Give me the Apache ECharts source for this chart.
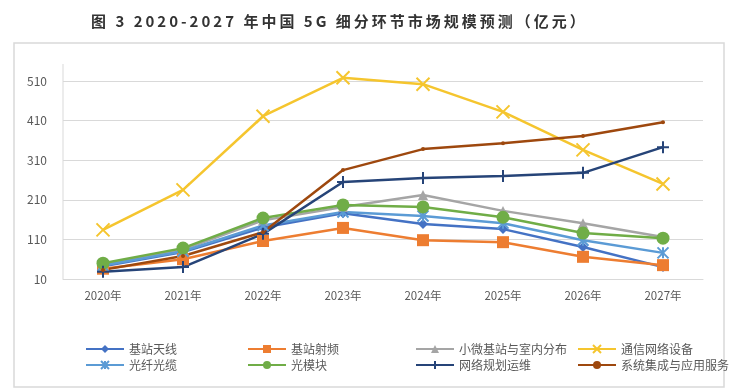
<!DOCTYPE html>
<html><head><meta charset="utf-8">
<script src="https://cdn.jsdelivr.net/npm/echarts@6/dist/echarts.min.js"></script>
<style>html,body{margin:0;padding:0;background:#fff;}#c{width:740px;height:392px;}</style>
</head><body><div id="c"></div>
<script>
const categories = ['2020年','2021年','2022年','2023年','2024年','2025年','2026年','2027年'];
const seriesNames = ['基站天线','基站射频','小微基站与室内分布','通信网络设备','光纤光缆','光模块','网络规划运维','系统集成与应用服务'];
const antenna   = [42, 78, 140, 176, 149, 136, 91, 40];
const radio     = [36, 60, 106, 139, 108, 103, 66, 45];
const smallCell = [48, 84, 158, 192, 222, 182, 151, 116];
const equipment = [134, 235, 421, 518, 502, 432, 336, 250];
const fiber     = [44, 80, 145, 179, 169, 151, 108, 76];
const module_   = [50, 88, 164, 197, 192, 166, 126, 113];
const planning  = [28, 40, 124, 255, 265, 270, 278, 343];
const service   = [33, 68, 128, 285, 338, 353, 371, 406];
const yTicks = {min: 10, max: 510, interval: 100};
const titleText = '图 3 2020-2027 年中国 5G 细分环节市场规模预测（亿元）';

const values = [antenna, radio, smallCell, equipment, fiber, module_, planning, service];
const colors = ['#4472C4','#ED7D31','#A5A5A5','#F5C52E','#5B9BD5','#70AD47','#264478','#9E480E'];
const symbols = ['diamond','rect','triangle','path://M0,0L10,10M10,0L0,10','path://M0,0L10,10M10,0L0,10M5,0L5,10','circle','path://M5,0L5,10M0,5L10,5','circle'];
const sizes = [10, 12, 10, 13, 11, 13, 12, 4];
const stroked = [false,false,false,true,true,false,true,false];

const chart = echarts.init(document.getElementById('c'));
const series = seriesNames.map((n,i)=>({
  name: n, type: 'line', data: values[i], symbol: symbols[i], symbolSize: sizes[i],
  showAllSymbol: true, clip: false,
  lineStyle: {color: colors[i], width: 2.5},
  itemStyle: stroked[i] ? {color: colors[i], borderColor: colors[i], borderWidth: 2} : {color: colors[i]},
  emphasis: {disabled: true}
}));
const legendCols = [[0,4],[1,5],[2,6],[3,7]];
const legendLeft = [80, 242, 410, 572];
const legends = legendCols.map((c,k)=>({
  data: c.map(i=>seriesNames[i]), orient: 'vertical', left: legendLeft[k], top: 338,
  itemGap: 4, itemWidth: 38, itemHeight: 10,
  textStyle: {color: '#595959', fontSize: 12, fontFamily: 'Noto Sans CJK SC'}
}));
const spaced = Array.from(titleText).join('\u2009');
chart.setOption({
  animation: false,
  backgroundColor: '#fff',
  title: {text: spaced, left: 86, top: 9,
    textStyle: {fontSize: 15, fontWeight: 'bold', color: '#333333', fontFamily: 'Noto Sans CJK SC'}},
  graphic: [
    {type: 'rect', shape: {x: 14, y: 43, width: 710, height: 344}, style: {fill: 'none', stroke: '#D9D9D9', lineWidth: 1.5}},
    {type: 'line', shape: {x1: 63, y1: 64, x2: 63, y2: 279}, style: {stroke: '#D9D9D9', lineWidth: 1}}
  ],
  legend: legends,
  grid: {left: 63, right: 37, top: 81, bottom: 113},
  xAxis: {type: 'category', data: categories, boundaryGap: true,
    axisLine: {lineStyle: {color: '#D9D9D9'}}, axisTick: {show: false},
    axisLabel: {color: '#595959', fontSize: 11.5, margin: 11, fontFamily: 'Noto Sans CJK SC'}},
  yAxis: {type: 'value', min: yTicks.min, max: yTicks.max, interval: yTicks.interval,
    axisLine: {show: false}, axisTick: {show: false},
    splitLine: {lineStyle: {color: '#D9D9D9'}},
    axisLabel: {color: '#595959', fontSize: 12, margin: 16, fontFamily: 'Noto Sans CJK SC'}},
  series: series
});
</script></body></html>
